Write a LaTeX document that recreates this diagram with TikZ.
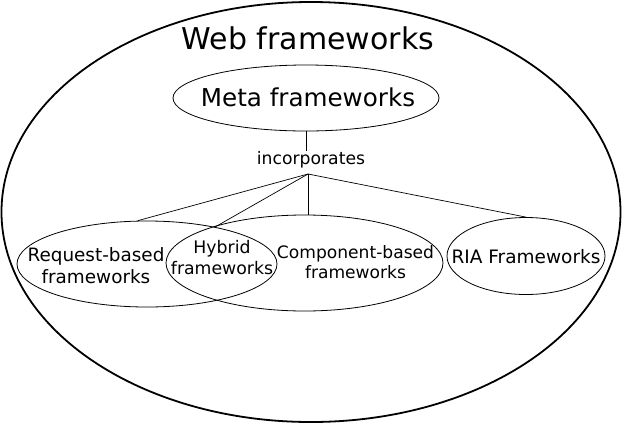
\documentclass[tikz,border=0pt]{standalone}
\usepackage{fontspec}
\setmainfont{DejaVu Sans}
\usetikzlibrary{shapes.geometric}
\begin{document}
\begin{tikzpicture}[x=1pt,y=-1pt,
  oval/.style={ellipse,draw,line width=0.8pt,inner sep=0pt},
  conn/.style={draw,line width=0.7pt},
  lbl/.style={inner sep=0pt,align=center}]
\useasboundingbox (0,0) rectangle (622,424);
\node[ellipse,draw,line width=1.8pt,minimum width=619pt,minimum height=420pt,inner sep=0pt] (web) at (311,212) {};
\node[lbl,font=\fontsize{30}{34}\selectfont] (title) at (308,38) {Web frameworks};
\node[oval,minimum width=266pt,minimum height=66pt] (meta) at (306,98) {};
\node[lbl,font=\fontsize{24.6}{28}\selectfont] (metat) at (308,97) {Meta frameworks};
\node[lbl,font=\fontsize{17.2}{20}\selectfont] (inc) at (311,160) {incorporates};
\coordinate (hub) at (308,174);
\node[oval,minimum width=260pt,minimum height=86pt] (req) at (147,264) {};
\node[oval,minimum width=277pt,minimum height=96pt] (comp) at (304.5,263) {};
\node[oval,minimum width=158pt,minimum height=77pt] (ria) at (526,256) {};
\coordinate (lens) at (215,227);
\node[lbl,font=\fontsize{18.4}{22}\selectfont] (reqt) at (96,266) {Request-based\\frameworks};
\node[lbl,font=\fontsize{17.3}{21}\selectfont] (hybt) at (222,257.5) {Hybrid\\frameworks};
\node[lbl,font=\fontsize{17.1}{20}\selectfont] (compt) at (355.5,262) {Component-based\\frameworks};
\node[lbl,font=\fontsize{18.5}{22}\selectfont] (riat) at (526,257) {RIA Frameworks};
\draw[conn] (meta.south) -- (inc.north -| meta.south);
\draw[conn] (hub) -- ([xshift=-9pt]req.north);
\draw[conn] (hub) -- (lens);
\draw[conn] (hub) -- (comp.north -| hub);
\draw[conn] (hub) -- (ria.north);
\end{tikzpicture}
\end{document}
